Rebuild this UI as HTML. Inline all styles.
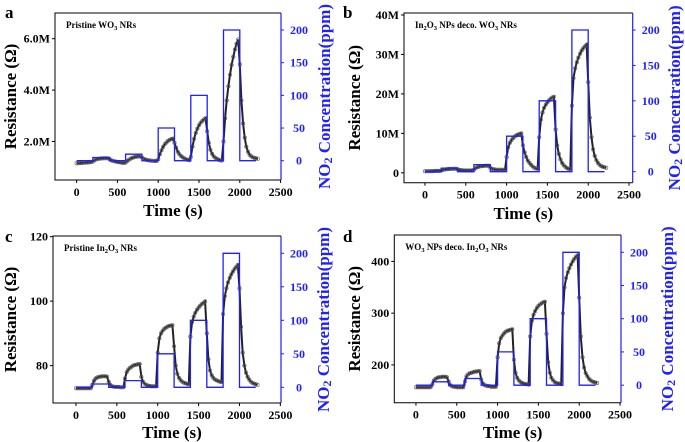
<!DOCTYPE html>
<html><head><meta charset="utf-8"><style>
body{margin:0;background:#fff;}
svg{display:block;font-family:"Liberation Serif",serif;font-weight:bold;}
text{font-family:"Liberation Serif",serif;font-weight:bold;}
</style></head><body>
<svg id="fig" width="685" height="442" viewBox="0 0 685 442" xmlns="http://www.w3.org/2000/svg"></svg>
<script>
// ---- shared data ----
const times = [];
for (let i = 0; i <= 111; i++) times.push(i * 20);
const stepTimes = [0,200,400,600,800,1000,1200,1400,1600,1800,2000,2200];
const stepConc = [0,5,0,10,0,50,0,100,0,200,0];
const xTicks = [0,500,1000,1500,2000,2500];
const rightTicks = [0,50,100,150,200];

// panel a (MΩ)
const resA = [1.15,1.15,1.16,1.16,1.17,1.17,1.18,1.18,1.19,1.2,
1.22,1.27,1.3,1.32,1.33,1.34,1.34,1.35,1.35,1.35,
1.33,1.28,1.25,1.23,1.22,1.2,1.19,1.18,1.17,1.16,
1.18,1.24,1.29,1.33,1.36,1.38,1.4,1.41,1.42,1.42,
1.38,1.33,1.3,1.28,1.27,1.26,1.25,1.25,1.24,1.24,
1.3,1.5,1.66,1.79,1.89,1.96,2.02,2.06,2.09,2.11,
1.95,1.75,1.6,1.5,1.43,1.38,1.34,1.31,1.29,1.27,
1.4,1.8,2.1,2.33,2.5,2.63,2.73,2.8,2.86,2.9,
2.4,1.95,1.68,1.52,1.42,1.36,1.32,1.29,1.27,1.26,
2.0,2.9,3.6,4.15,4.6,4.98,5.3,5.58,5.8,5.97,
5.0,3.6,2.7,2.15,1.8,1.6,1.48,1.42,1.38,1.36,
1.34,1.33];
const leftTicksA = [2,4,6];
const leftLabelsA = ["2.0M","4.0M","6.0M"];
// panel b (MΩ)
const resB = [0.4,0.4,0.4,0.45,0.45,0.45,0.5,0.5,0.5,0.5,
0.6,0.75,0.85,0.9,0.95,1.0,1.0,1.05,1.05,1.05,
0.9,0.75,0.7,0.65,0.6,0.6,0.6,0.6,0.6,0.6,
0.8,1.2,1.4,1.55,1.65,1.7,1.75,1.8,1.8,1.8,
1.3,1.0,0.9,0.85,0.8,0.8,0.8,0.8,0.8,0.8,
4.0,6.5,7.6,8.3,8.8,9.2,9.5,9.7,9.9,10.0,
7.0,5.2,4.0,3.1,2.5,2.0,1.6,1.3,1.1,1.0,
9,13.5,15.3,16.5,17.3,17.9,18.4,18.8,19.1,19.3,
11,7,4.8,3.4,2.5,1.9,1.5,1.2,1.0,0.9,
17,24,26.5,28,29.2,30.2,31,31.6,32.1,32.5,
23,14,9,6,4.3,3.2,2.5,2.0,1.7,1.5,
1.4,1.3];
const leftTicksB = [0,10,20,30,40];
const leftLabelsB = ["0","10M","20M","30M","40M"];
// panel c (Ω)
const resC = [73,73,73,73,73,73,73,73,73,73,
74,75.3,76,76.3,76.5,76.6,76.7,76.7,76.7,76.6,
75,74,73.6,73.5,73.4,73.4,73.4,73.3,73.3,73.3,
76,78,78.8,79.3,79.7,80,80.2,80.3,80.4,80.5,
76.5,75,74.4,74,73.8,73.7,73.6,73.6,73.6,73.6,
84,88.5,90,90.8,91.4,91.8,92.1,92.3,92.4,92.5,
86,80,77.5,76.2,75.5,75,74.7,74.5,74.3,74.2,
89,93.5,95.2,96.4,97.3,98,98.6,99.1,99.5,99.9,
90,82,78.5,77,76.2,75.7,75.4,75.2,75,74.9,
96,101.5,104,105.8,107.2,108.3,109.2,110,110.6,111.2,
104,92,84,80,77.8,76.5,75.6,75,74.6,74.4,
74.2,74];
const leftTicksC = [80,100,120];
const leftLabelsC = ["80","100","120"];
// panel d (Ω)
const resD = [157,157,157,157,157,157,157,157,157,157,
162,170,173,175,176,176,177,177,177,176,
168,161,159,158,158,157,157,157,157,157,
168,178,182,184,185,186,187,187,188,188,
172,164,161,160,159,159,158,158,158,158,
215,242,252,257,261,264,266,267,268,269,
210,185,175,170,167,165,164,163,163,162,
255,285,297,304,310,314,317,319,321,322,
260,205,185,175,170,167,165,164,164,163,
300,350,368,379,387,394,400,405,409,412,
330,255,215,195,184,178,173,170,168,167,
166,165];
const leftTicksD = [200,300,400];
const leftLabelsD = ["200","300","400"];

const NS = "http://www.w3.org/2000/svg";
const svg = document.getElementById('fig');
function mk(tag, attrs, parent, text) {
  const e = document.createElementNS(NS, tag);
  for (const k in attrs) e.setAttribute(k, attrs[k]);
  if (text !== undefined) e.textContent = text;
  (parent || svg).appendChild(e);
  return e;
}

function panel(cfg, res, lt, ll) {
  const g = mk('g', {});
  
  
  const L = cfg.L, R = cfg.R, T = cfg.T, B = cfg.B;
  const sx = v => L + (v - cfg.x0) / (cfg.x1 - cfg.x0) * (R - L);
  const sy = v => B - (v - cfg.y0) / (cfg.y1 - cfg.y0) * (B - T);
  const sr = v => B - (v - cfg.r0) / (cfg.r1 - cfg.r0) * (B - T);

  let d = '';
  res.forEach((v, i) => { d += (i ? 'L' : 'M') + sx(times[i]).toFixed(1) + ',' + sy(v).toFixed(1); });
  const line = mk('path', {d: d, fill: 'none', stroke: '#222', 'stroke-width': 2}, g);
  
  
  res.forEach((v, i) => {
    const c = mk('circle', {cx: sx(times[i]).toFixed(1), cy: sy(v).toFixed(1), r: 1.7, fill: 'none', stroke: '#555', 'stroke-width': 0.6}, g);
    
    
  });
  let s = '';
  stepConc.forEach((c, i) => {
    s += (i ? 'L' : 'M') + sx(stepTimes[i]).toFixed(1) + ',' + sr(c).toFixed(1);
    s += 'L' + sx(stepTimes[i + 1]).toFixed(1) + ',' + sr(c).toFixed(1);
  });
  const st = mk('path', {d: s, fill: 'none', stroke: '#1f1fff', 'stroke-width': 1.3}, g);
  
  

  const fr = mk('path', {d: `M${R},${T}L${L},${T}L${L},${B}L${R},${B}`, fill: 'none', stroke: '#000', 'stroke-width': 1}, g);
  
  
  const ra = mk('line', {x1: R, y1: T, x2: R, y2: B, stroke: '#1f1fff', 'stroke-width': 1.2}, g);
  
  

  xTicks.forEach(t => {
    const x = sx(t);
    mk('line', {x1: x, y1: B, x2: x, y2: B + 3, stroke: '#000'}, g);
    const tx = mk('text', {x: x, y: B + 16, 'text-anchor': 'middle', 'font-size': 12}, g, String(t));
    
    
  });
  lt.forEach((t, i) => {
    const y = sy(t);
    mk('line', {x1: L - 3, y1: y, x2: L, y2: y, stroke: '#000'}, g);
    const tx = mk('text', {x: L - 5, y: y + 4, 'text-anchor': 'end', 'font-size': 12}, g, ll[i]);
    
    
  });
  rightTicks.forEach(t => {
    const y = sr(t);
    mk('line', {x1: R, y1: y, x2: R + 3, y2: y, stroke: '#1f1fff'}, g);
    const tx = mk('text', {x: R + 18, y: y + 4, 'text-anchor': 'middle', 'font-size': 12, fill: '#1f1fff'}, g, String(t));
    
    
  });
  const xt = mk('text', {x: (L + R) / 2 + 5, y: cfg.xtY, 'text-anchor': 'middle', 'font-size': 17}, g, 'Time (s)');
  
  
  const cy = (T + B) / 2;
  const yt = mk('text', {transform: `translate(${cfg.ltX},${cy}) rotate(-90)`, 'text-anchor': 'middle', 'font-size': 17}, g, 'Resistance (Ω)');
  
  
  const rt = mk('text', {transform: `translate(${cfg.rtX},${cy}) rotate(-90)`, 'text-anchor': 'middle', 'font-size': 17, fill: '#1f1fff'}, g);
  
  
  mk('tspan', {}, rt, 'NO');
  mk('tspan', {'font-size': 12, dy: 2}, rt, '2');
  mk('tspan', {dy: -2}, rt, ' Concentration(ppm)');
  const lt2 = mk('text', {x: cfg.letX, y: cfg.letY, 'font-size': 17}, g, cfg.id);
  
  
  const lab = mk('text', {x: L + 11, y: T + 15, 'font-size': 9}, g);
  
  
  cfg.label.forEach(p => {
    if (p[1]) { mk('tspan', {'font-size': 6.5, dy: 2}, lab, p[0]); }
    else { mk('tspan', {dy: p[2] ? -2 : 0}, lab, p[0]); }
  });
}

panel({id:'a', L:55, R:281, T:13, B:180, x0:-265, x1:2505, y0:0.5, y1:7.0, r0:-29.5, r1:226, xtY:216, ltX:16, rtX:330, letX:5, letY:18,
  label:[['Pristine WO',0],['3',1],[' NRs',0,1]]}, resA, leftTicksA, leftLabelsA);
panel({id:'b', L:404, R:632.7, T:13, B:182.7, x0:-257, x1:2545, y0:-2.5, y1:40.5, r0:-15.6, r1:224, xtY:219, ltX:360, rtX:680, letX:343, letY:18,
  label:[['In',0],['2',1],['O',0,1],['3',1],[' NPs deco. WO',0,1],['3',1],[' NRs',0,1]]}, resB, leftTicksB, leftLabelsB);
panel({id:'c', L:53, R:281, T:236, B:403, x0:-281, x1:2508, y0:68.4, y1:120.2, r0:-23.4, r1:225.8, xtY:438, ltX:16, rtX:329, letX:5, letY:242,
  label:[['Pristine In',0],['2',1],['O',0,1],['3',1],[' NRs',0,1]]}, resC, leftTicksC, leftLabelsC);
panel({id:'d', L:394.3, R:621, T:235, B:402.7, x0:-265, x1:2512, y0:127, y1:451, r0:-26.4, r1:226, xtY:438, ltX:360, rtX:673, letX:343, letY:242,
  label:[['WO',0],['3',1],[' NPs deco. In',0,1],['2',1],['O',0,1],['3',1],[' NRs',0,1]]}, resD, leftTicksD, leftLabelsD);
</script>
</body></html>
